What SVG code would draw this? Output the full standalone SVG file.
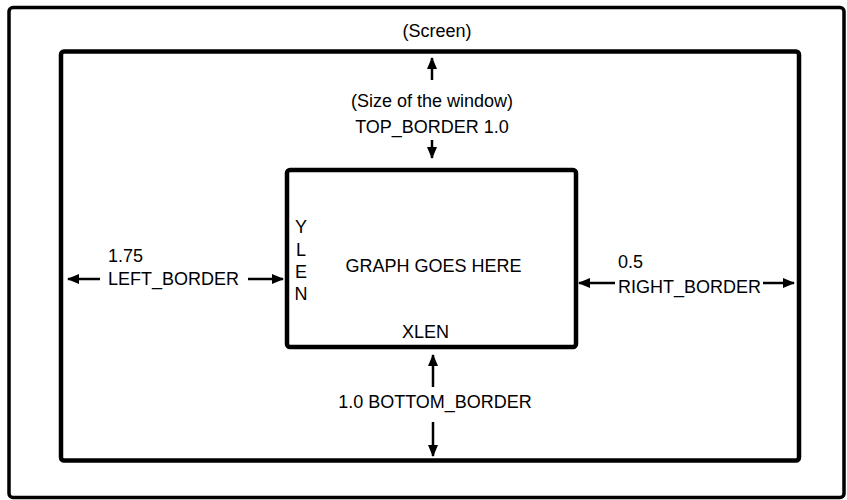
<svg xmlns="http://www.w3.org/2000/svg" width="847" height="500" viewBox="0 0 847 500">
<style>
.frame{fill:none;stroke:#000;stroke-linejoin:round}
.t{font-family:"Liberation Sans",Arial,sans-serif;font-size:18px;fill:#000}
.m{text-anchor:middle}
.shaft{stroke:#000;stroke-width:2.5;fill:none}
</style>
<defs>
<marker id="ah" viewBox="0 0 12 10" refX="11" refY="5" markerWidth="4.8" markerHeight="4" markerUnits="strokeWidth" orient="auto">
<path d="M0,0 L12,5 L0,10 Z" fill="#000"/>
</marker>
</defs>
<rect width="847" height="500" fill="#fff"/>
<g id="screen">
<rect class="frame" x="9" y="7.5" width="835" height="490" rx="4" stroke-width="3.5"/>
<text class="t m" x="437" y="37">(Screen)</text>
</g>
<g id="window">
<rect class="frame" x="61" y="51.5" width="738" height="409" rx="3" stroke-width="4.5"/>
</g>
<g id="graph">
<rect class="frame" x="287" y="170" width="289" height="177" rx="3" stroke-width="4.5"/>
<text class="t m" x="433.5" y="272">GRAPH GOES HERE</text>
<text class="t m" x="425.5" y="338">XLEN</text>
<text class="t m" x="301" y="233">Y</text>
<text class="t m" x="301" y="256">L</text>
<text class="t m" x="301" y="278">E</text>
<text class="t m" x="301" y="300">N</text>
</g>
<g id="connectors">
<line class="shaft" x1="432" y1="80" x2="432" y2="58" marker-end="url(#ah)"/>
<line class="shaft" x1="432" y1="140" x2="432" y2="158" marker-end="url(#ah)"/>
<line class="shaft" x1="433" y1="387" x2="433" y2="355" marker-end="url(#ah)"/>
<line class="shaft" x1="433" y1="422" x2="433" y2="456" marker-end="url(#ah)"/>
<line class="shaft" x1="100" y1="279" x2="68" y2="279" marker-end="url(#ah)"/>
<line class="shaft" x1="248" y1="279" x2="283" y2="279" marker-end="url(#ah)"/>
<line class="shaft" x1="615" y1="283" x2="579" y2="283" marker-end="url(#ah)"/>
<line class="shaft" x1="763" y1="283" x2="794" y2="283" marker-end="url(#ah)"/>
</g>
<g id="labels">
<text class="t m" x="432" y="107">(Size of the window)</text>
<text class="t m" x="432" y="133">TOP_BORDER 1.0</text>
<text class="t m" x="435" y="408">1.0 BOTTOM_BORDER</text>
<text class="t" x="108" y="262">1.75</text>
<text class="t" x="108" y="285">LEFT_BORDER</text>
<text class="t" x="618" y="268">0.5</text>
<text class="t" x="618" y="293">RIGHT_BORDER</text>
</g>
</svg>
